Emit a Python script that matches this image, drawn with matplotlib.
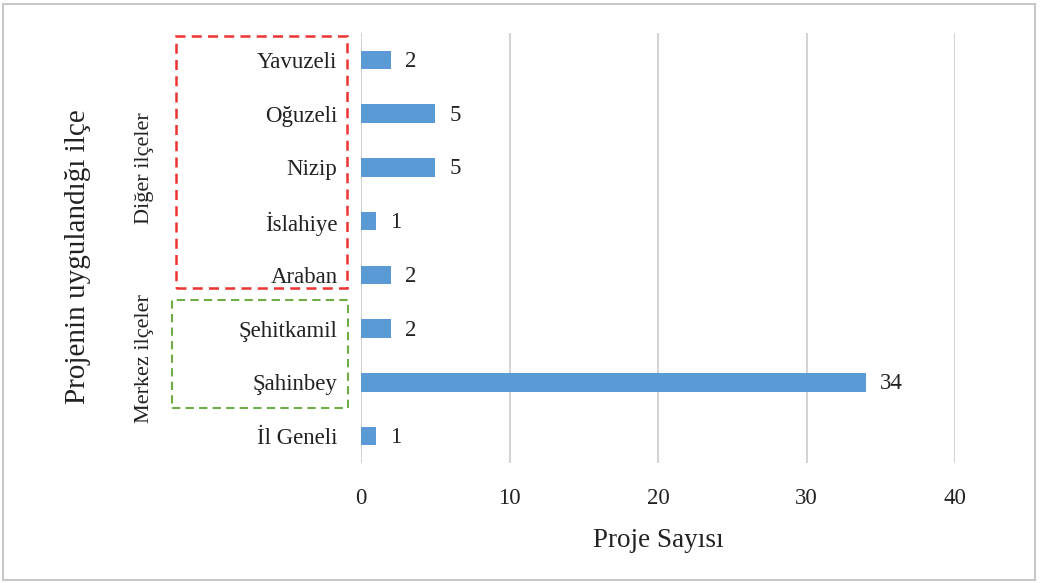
import matplotlib
matplotlib.use('Agg')
import matplotlib.pyplot as plt
from matplotlib.patches import Rectangle

# ilçeler (alttan üste)
districts = ['İl Geneli', 'Şahinbey', 'Şehitkamil', 'Araban', 'İslahiye', 'Nizip', 'Oğuzeli', 'Yavuzeli']
counts = [1, 34, 2, 2, 1, 5, 5, 2]
xticks = [0, 10, 20, 30, 40]

plt.rcParams['font.family'] = ['Liberation Serif', 'DejaVu Serif']

fig = plt.figure(figsize=(10.41, 5.83), dpi=100)
ax = fig.add_axes([0.3468, 0.2058, 0.5706, 0.7376])

y = range(len(districts))
ax.barh(y, counts, height=0.34, color='#5b9bd5', zorder=3)
for yi, c in zip(y, counts):
    ax.annotate(str(c), (c, yi), xytext=(10, -1), textcoords='offset points',
                va='center', ha='left', fontsize=16.5, color='#222222')

ax.set_xlim(0, 40)
ax.set_ylim(-0.5, len(districts) - 0.5)
ax.set_xticks(xticks)
ax.set_yticks(list(y))
ax.set_yticklabels(districts, fontsize=16.5, color='#222222')
ax.tick_params(axis='x', labelsize=16.5, colors='#222222', pad=18, length=0)
ax.tick_params(axis='y', length=0, pad=17)
ax.grid(axis='x', color='#d0d0d0', linewidth=1.3, zorder=0)
for s in ax.spines.values():
    s.set_visible(False)

ax.set_xlabel('Proje Sayısı', fontsize=19.5, color='#222222', labelpad=14)

fig.text(0.075, 0.56, 'Projenin uygulandığı ilçe', rotation=90, ha='center', va='center',
         fontsize=21, color='#222222')
fig.text(0.139, 0.712, 'Diğer ilçeler', rotation=90, ha='center', va='center',
         fontsize=16, color='#222222')
fig.text(0.139, 0.385, 'Merkez ilçeler', rotation=90, ha='center', va='center',
         fontsize=16, color='#222222')

# kesikli çerçeveler
fig.patches.append(Rectangle((176 / 1041, 1 - 288 / 583), 171 / 1041, 252 / 583,
                             transform=fig.transFigure, fill=False, edgecolor='#ee3333',
                             linestyle=(0, (4, 2.5)), linewidth=1.8))
fig.patches.append(Rectangle((172 / 1041, 1 - 408 / 583), 176 / 1041, 108 / 583,
                             transform=fig.transFigure, fill=False, edgecolor='#70ad47',
                             linestyle=(0, (4, 2.5)), linewidth=1.5))
# dış çerçeve
fig.patches.append(Rectangle((3 / 1041, 3 / 583), 1032 / 1041, 576 / 583,
                             transform=fig.transFigure, fill=False, edgecolor='#c8c8c8',
                             linewidth=1.5))

fig.savefig('out.png', dpi=100)
